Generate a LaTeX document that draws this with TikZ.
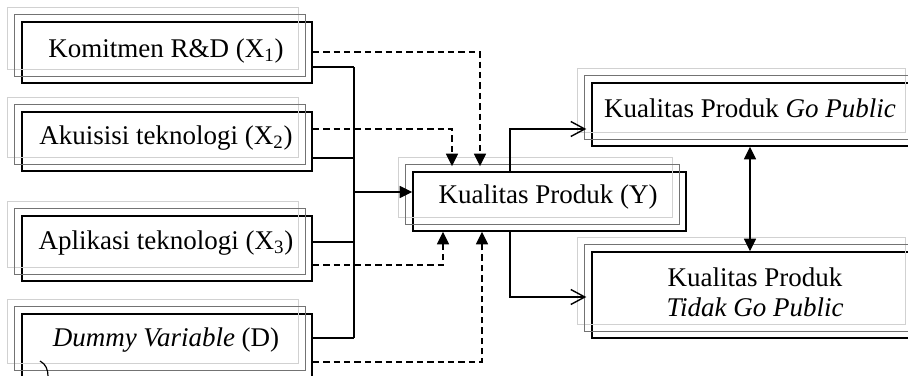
\documentclass[tikz,border=0pt]{standalone}
\usepackage{fontspec}
\setmainfont{Liberation Serif}
\usetikzlibrary{arrows.meta}
\tikzset{
  bx/.style={draw=black, line width=0.75pt, inner sep=0pt},
  gmid/.style={draw=black!55, line width=0.7pt},
  glight/.style={draw=black!18, line width=0.6pt},
  txt/.style={inner sep=0pt, font=\fontsize{13.5}{15.5}\selectfont},
  ln/.style={draw=black, line width=0.7pt},
  dsh/.style={draw=black, line width=0.7pt, dash pattern=on 3.2pt off 2pt},
  tri/.style={-{Triangle[length=6.3pt,width=6pt]}},
  barb/.style={-{Straight Barb[length=7pt,width=7.5pt,line width=0.7pt]}},
}
\begin{document}
\begin{tikzpicture}[x=0.5pt,y=-0.5pt]
\useasboundingbox (0,0) rectangle (908,375);
\clip (0,0) rectangle (908,375);
\fill[white] (0,0) rectangle (908,375);
% boxes
\node[bx, minimum width=145pt, minimum height=30.5pt] (k1) at (167,52.5) {};
\node[bx, minimum width=145pt, minimum height=29.5pt] (k2) at (167,141.5) {};
\node[bx, minimum width=145pt, minimum height=32.5pt] (k3) at (167,248.5) {};
\node[bx, minimum width=145pt, minimum height=31.5pt] (k4) at (167,345.5) {};
\node[bx, minimum width=136.5pt, minimum height=29.5pt] (y) at (549.5,201.5) {};
\node[bx, minimum width=163.5pt, minimum height=31.5pt] (gp) at (755.5,114.5) {};
\node[bx, minimum width=163.5pt, minimum height=43pt] (td) at (755.5,295) {};
\foreach \n in {k1,k2,k3,k4,y,gp,td}{
  \draw[glight] ([shift={(-14,-14)}]\n.north west) rectangle ([shift={(-14,-14)}]\n.south east);
  \draw[gmid] ([shift={(-7,-7)}]\n.north west) rectangle ([shift={(-7,-7)}]\n.south east);
}
% texts
\node[txt] (t1) at (166,51) {Komitmen R\&D (X\textsubscript{1})};
\node[txt] (t2) at (166,138) {Akuisisi teknologi (X\textsubscript{2})};
\node[txt] (t3) at (166,243) {Aplikasi teknologi (X\textsubscript{3})};
\node[txt] (t4) at (166,340) {\textit{Dummy Variable} (D)};
\node[txt] (ty) at (548,197) {Kualitas Produk (Y)};
\node[txt] (tg) at (750,108) {Kualitas Produk \textit{Go Public}};
\node[txt, align=center] (tt) at (755,292) {Kualitas Produk\\[-0.5pt]\textit{Tidak Go Public}};
% small stray stroke near bottom left
\draw[line width=0.6pt] (40,361) .. controls (46,364) and (48,370) .. (48,376);
% bus
\coordinate (bt) at (354,67);
\coordinate (bb) at (354,338);
\coordinate (bm) at (354,192);
\draw[ln] (k1.east |- bt) -- (bt);
\draw[ln] (k2.east |- 0,158) -- (bt |- 0,158);
\draw[ln] (k3.east |- 0,242) -- (bt |- 0,242);
\draw[ln] (k4.east |- bb) -- (bb);
\draw[ln] (bt) -- (bb);
\draw[ln,tri] (bm) -- (y.west |- bm);
% dashed moderators
\draw[dsh,tri,shorten >=2.5pt] (k1.east |- 0,52) -| (y.north -| 480,0);
\draw[dsh,tri,shorten >=2.5pt] (k2.east |- 0,129) -| (y.north -| 452,0);
\draw[dsh,tri] (k3.east |- 0,265) -| (y.south -| 443,0);
\draw[dsh,tri] (k4.east |- 0,362) -| (y.south -| 482,0);
% outputs
\draw[ln,barb,shorten >=2.5pt] (y.north -| 510,0) |- (gp.west |- 0,129);
\draw[ln,barb,shorten >=2.5pt] (y.south -| 510,0) |- (td.west |- 0,297);
\draw[ln,{Triangle[length=6.3pt,width=6pt]}-{Triangle[length=6.3pt,width=6pt]}] (gp.south -| 750,0) -- (td.north -| 750,0);
\end{tikzpicture}
\end{document}
